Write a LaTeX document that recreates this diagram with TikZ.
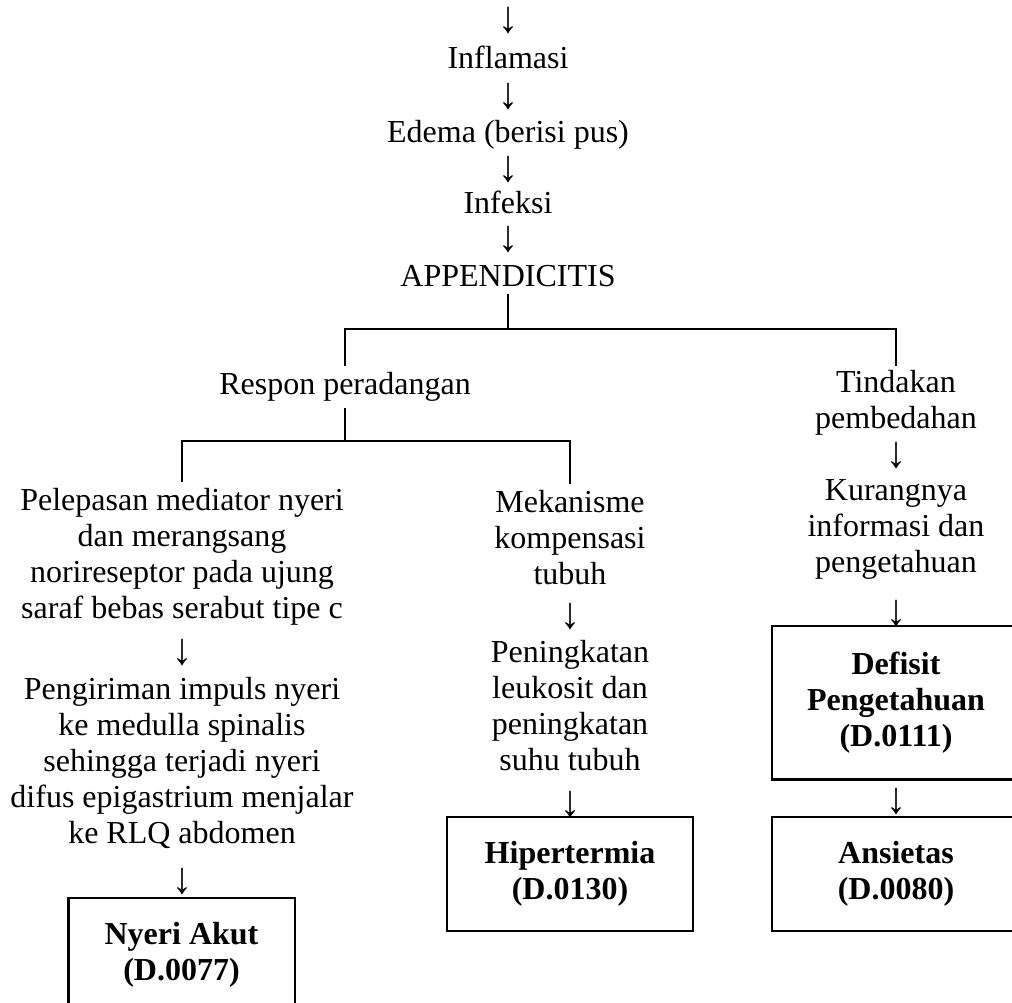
\documentclass[tikz,border=0pt]{standalone}
\usepackage{fontspec}
\setmainfont{Liberation Serif}
\usetikzlibrary{positioning}
\newcommand{\dn}{\scalebox{1.25}[1.4]{↓}}
\begin{document}
\begin{tikzpicture}[
  x=0.375pt, y=-0.375pt, line width=1.1pt,
  txt/.style={align=center, inner sep=2pt, font=\fontsize{12pt}{13.5pt}\selectfont},
  ar/.style={txt, inner sep=0pt},
  dgn/.style={draw, align=center, font=\fontsize{12pt}{13.5pt}\selectfont\bfseries},
]
\useasboundingbox (0,0) rectangle (1012,1002);
\clip (0,0) rectangle (1012,1002);
% main chain
\node[ar] (a0) at (508,21) {\dn};
\node[txt] (inflamasi) at (508,57) {Inflamasi};
\node[ar] (a1) at (508,97) {\dn};
\node[txt] (edema) at (508,135) {Edema (berisi pus)};
\node[ar] (a2) at (508,170) {\dn};
\node[txt] (infeksi) at (508,202) {Infeksi};
\node[ar] (a3) at (508,240) {\dn};
\node[txt] (appendicitis) at (508,276) {APPENDICITIS};
% first split
\node[txt] (respon) at (345,387) {Respon peradangan};
\node[txt, inner ysep=1pt] (tindakan) at (896,403) {Tindakan\\pembedahan};
% left branch: pain
\node[txt] (pelepasan) at (182,557) {Pelepasan mediator nyeri\\dan merangsang\\norireseptor pada ujung\\saraf bebas serabut tipe c};
\node[ar] (a4) at (182,653) {\dn};
\node[txt] (pengiriman) at (182,763) {Pengiriman impuls nyeri\\ke medulla spinalis\\sehingga terjadi nyeri\\difus epigastrium menjalar\\ke RLQ abdomen};
\node[ar] (a5) at (182,882) {\dn};
\node[dgn, minimum width=85.1pt, minimum height=42.75pt] (nyeri) at (181.5,955) {Nyeri Akut\\(D.0077)};
% middle branch: fever
\node[txt] (mekanisme) at (570,538) {Mekanisme\\kompensasi\\tubuh};
\node[ar] (a6) at (570,617) {\dn};
\node[txt] (peningkatan) at (570,706) {Peningkatan\\leukosit dan\\peningkatan\\suhu tubuh};
\node[ar] (a7) at (570,805) {\dn};
\node[dgn, minimum width=92.25pt, minimum height=42.75pt] (hipertermia) at (570,874) {Hipertermia\\(D.0130)};
% right branch: surgery
\node[ar] (a8) at (896,456) {\dn};
\node[txt, inner ysep=1pt] (kurang) at (896,529) {Kurangnya\\informasi dan\\pengetahuan};
\node[ar] (a9) at (896,614) {\dn};
\node[dgn, minimum width=93pt, minimum height=57.4pt] (defisit) at (896,702.5) {Defisit\\Pengetahuan\\(D.0111)};
\node[ar] (a10) at (896,802) {\dn};
\node[dgn, minimum width=93pt, minimum height=42.75pt] (ansietas) at (896,874) {Ansietas\\(D.0080)};
% connectors
\coordinate (s1) at (508,329);
\coordinate (s2) at (345,441);
\draw (appendicitis) -- (s1);
\draw (respon) |- (s1) -| (tindakan);
\draw (respon) -- (s2);
\draw (pelepasan) |- (s2) -| (mekanisme);
\end{tikzpicture}
\end{document}
